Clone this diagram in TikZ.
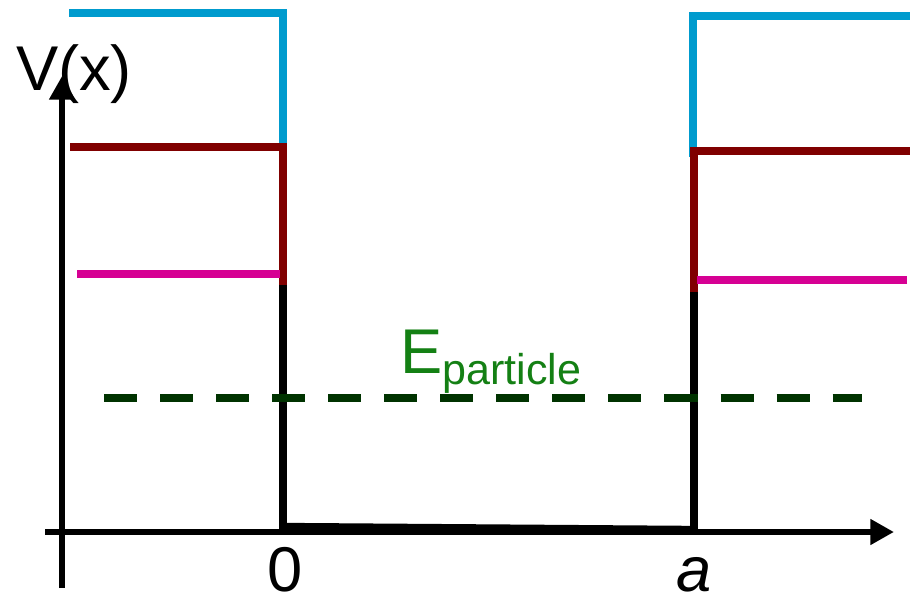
\documentclass[tikz,border=0pt]{standalone}
\usepackage{fontspec}
\setmainfont{Liberation Sans}
\usetikzlibrary{arrows.meta}
\definecolor{skyblue}{RGB}{0,155,206}
\definecolor{maroon}{RGB}{128,0,0}
\definecolor{pinkish}{RGB}{214,0,147}
\definecolor{darkgreen}{RGB}{0,51,0}
\definecolor{labelgreen}{RGB}{20,128,20}

\begin{document}
\begin{tikzpicture}[x=0.02cm,y=-0.02cm,
  axis/.style={-{Triangle[length=13.5pt,width=14pt]},line width=3.8pt,black},
  wall/.style={line width=4pt,black},
  lvl/.style={line width=4.2pt},
  energy/.style={line width=4.5pt,darkgreen,dash pattern=on 18.8pt off 13.1pt},
  lbl/.style={font=\fontsize{36}{40}\selectfont,inner sep=0pt,anchor=base}]
\useasboundingbox (0,0) rectangle (910,605);
% axes
\coordinate (ybot) at (62,588);
\coordinate (ytop) at (62,76);
\coordinate (xleft) at (45,532);
\coordinate (xright) at (894,532);
\draw[axis] (ybot) -- (ytop);
\draw[axis] (xleft) -- (xright);
% well bottom and walls
\coordinate (lbot) at (283,526);
\coordinate (rbot) at (694,529);
\draw[line width=3.6pt] (lbot) -- (rbot);
\draw[wall] (283,529) -- (283,285);
\draw[wall] (694,531) -- (694,292);
% barrier heights
\draw[lvl,skyblue] (69,13) -- (283,13) -- (283,152);
\draw[lvl,maroon] (70,147) -- (283,147) -- (283,285);
\draw[lvl,pinkish] (77,274) -- (280,274);
\draw[lvl,skyblue] (910,16) -- (693,16) -- (693,157);
\draw[lvl,maroon] (910,151) -- (694,151) -- (694,292);
\draw[lvl,pinkish] (907,280) -- (697,280);
% particle energy
\coordinate (eleft) at (104,398);
\coordinate (eright) at (862,398);
\draw[energy] (eleft) -- (eright);
\node[lbl,anchor=base west,text=labelgreen] (elabel) at (400,373)
  {E\raisebox{-6.8pt}{\fontsize{24.5}{28}\selectfont particle}};
% labels
\node[lbl] (vlabel) at (74,90) {V(x)};
\node[lbl] (zero) at (285,591) {0};
\node[lbl] (alabel) at (694,591) {\itshape a};
\end{tikzpicture}
\end{document}
